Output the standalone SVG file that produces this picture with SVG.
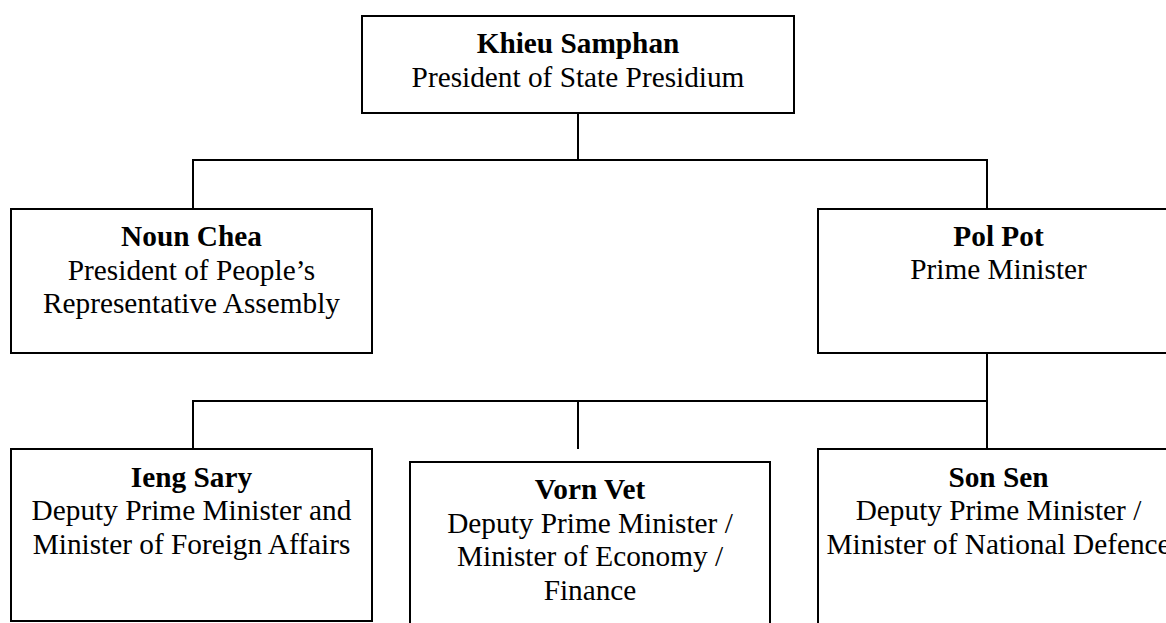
<svg xmlns="http://www.w3.org/2000/svg" width="1166" height="623" viewBox="0 0 1166 623">
<style>
.box{fill:#fff;stroke:#000;stroke-width:2}
.ln{stroke:#000;stroke-width:2;fill:none}
text{font-family:"Liberation Serif","Times New Roman",serif;font-size:29.3px;fill:#000;text-anchor:middle}
.b{font-weight:bold}
</style>
<rect x="0" y="0" width="1166" height="623" fill="#fff"/>
<g id="connectors">
<line class="ln" x1="578" y1="113" x2="578" y2="160"/>
<line class="ln" x1="192" y1="160" x2="988" y2="160"/>
<line class="ln" x1="193" y1="160" x2="193" y2="209"/>
<line class="ln" x1="987" y1="160" x2="987" y2="209"/>
<line class="ln" x1="987" y1="353" x2="987" y2="449"/>
<line class="ln" x1="192" y1="401" x2="988" y2="401"/>
<line class="ln" x1="193" y1="401" x2="193" y2="449"/>
<line class="ln" x1="578" y1="401" x2="578" y2="449"/>
</g>
<g id="khieu">
<rect class="box" x="362" y="16" width="432" height="97"/>
<text x="578" y="53" class="b">Khieu Samphan</text>
<text x="578" y="87">President of State Presidium</text>
</g>
<g id="noun">
<rect class="box" x="11" y="209" width="361" height="144"/>
<text x="191.5" y="246" class="b">Noun Chea</text>
<text x="191.5" y="280">President of People’s</text>
<text x="191.5" y="313">Representative Assembly</text>
</g>
<g id="polpot">
<rect class="box" x="818" y="209" width="361" height="144"/>
<text x="998.5" y="246" class="b">Pol Pot</text>
<text x="998.5" y="279">Prime Minister</text>
</g>
<g id="ieng">
<rect class="box" x="11" y="449" width="361" height="172"/>
<text x="191.5" y="487" class="b">Ieng Sary</text>
<text x="191.5" y="520">Deputy Prime Minister and</text>
<text x="191.5" y="554">Minister of Foreign Affairs</text>
</g>
<g id="vorn">
<rect class="box" x="410" y="462" width="360" height="200"/>
<text x="590" y="499" class="b">Vorn Vet</text>
<text x="590" y="533">Deputy Prime Minister /</text>
<text x="590" y="566">Minister of Economy /</text>
<text x="590" y="600">Finance</text>
</g>
<g id="sonsen">
<rect class="box" x="818" y="449" width="361" height="200"/>
<text x="998.5" y="487" class="b">Son Sen</text>
<text x="998.5" y="520">Deputy Prime Minister /</text>
<text x="998.5" y="554">Minister of National Defence</text>
</g>
</svg>
